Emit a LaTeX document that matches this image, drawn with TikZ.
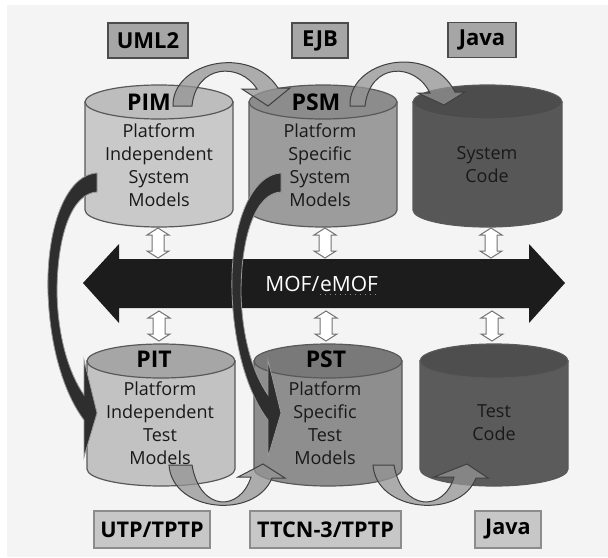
\documentclass[tikz,border=0pt]{standalone}
\usepackage{fontspec}
\setmainfont{Open Sans}
\definecolor{bgc}{HTML}{F4F4F4}
\definecolor{mofc}{HTML}{1C1C1C}
\definecolor{pimc}{HTML}{C9C9C9}
\definecolor{pimtop}{HTML}{BDBDBD}
\definecolor{psmc}{HTML}{9C9C9C}
\definecolor{psmtop}{HTML}{8C8C8C}
\definecolor{codec}{HTML}{575757}
\definecolor{codetop}{HTML}{4C4C4C}
\definecolor{pitc}{HTML}{C2C2C2}
\definecolor{pittop}{HTML}{A6A6A6}
\definecolor{pstc}{HTML}{8E8E8E}
\definecolor{psttop}{HTML}{797979}
\definecolor{tcodec}{HTML}{5B5B5B}
\definecolor{tcodetop}{HTML}{4E4E4E}
\tikzset{
  cyledge/.style={draw=black!65, line width=0.6pt},
  bodytext/.style={font=\fontsize{9}{11.5}\selectfont, align=center, text=black!90, inner sep=0pt},
  titletext/.style={font=\fontsize{11.5}{13}\selectfont\bfseries, inner sep=0pt},
  toplabel/.style={draw=black!70, fill=black!35, line width=0.6pt, font=\fontsize{11}{13}\selectfont\bfseries, inner sep=0pt, minimum height=17.5pt},
  botlabel/.style={draw=black!45, fill=black!22, line width=0.6pt, font=\fontsize{10.8}{13}\selectfont\bfseries, inner sep=0pt, minimum height=18.5pt},
  moftext/.style={font=\fontsize{10.5}{12}\selectfont, text=white, inner sep=0pt},
  blackarrow/.style={fill=black!82, draw=black!40, line width=0.4pt},
  grayarrow/.style={fill=black!42, fill opacity=0.75, draw=black!75, line width=0.5pt},
  dblarrow/.style={fill=white, draw=black!55, line width=0.5pt}
}
\newcommand\drawcyl[6]{%
  \begin{scope}[shift={(#1,#2)}]
    \filldraw[cyledge, fill=#5] (-#4,0) -- (-#4,#3) arc[start angle=180, end angle=0, x radius=#4, y radius=17] -- (#4,0) -- cycle;
    \filldraw[cyledge, fill=#6] (0,0) ellipse[x radius=#4, y radius=17];
  \end{scope}}
\newcommand\updown[2]{%
  \filldraw[dblarrow, shift={(#1,#2)}] (0,0) -- (11,7) -- (6,7) -- (6,23) -- (11,23) -- (0,30) -- (-11,23) -- (-6,23) -- (-6,7) -- (-11,7) -- cycle;}
\begin{document}
\begin{tikzpicture}[x=0.5pt,y=-0.5pt]
\useasboundingbox (0,0) rectangle (608,557);
\fill[white] (0,0) rectangle (608,557);
\fill[bgc] (7,5) rectangle (608,557);

% MOF / eMOF bus arrow
\fill[mofc] (83,283) -- (119,244) -- (119,259) -- (529,259) -- (529,244) -- (565,283) -- (529,323) -- (529,308) -- (119,308) -- (119,323) -- cycle;
\node[moftext, anchor=base west] (mofa) at (265,291) {MOF/};
\node[moftext, anchor=base west] (mofb) at (mofa.base east) {eMOF};
\draw[dotted, black!45, line width=0.5pt] ([yshift=-1.5pt]mofb.base west) -- ([yshift=-1.5pt]mofb.base east);

% small double arrows
\updown{158}{228}
\updown{325}{228}
\updown{491}{228}
\updown{159}{311}
\updown{326}{311}
\updown{492}{311}

% cylinders
\drawcyl{159}{102}{108}{74}{pimc}{pimtop}
\drawcyl{323}{102}{108}{74}{psmc}{psmtop}
\drawcyl{487.5}{102}{108}{74.5}{codec}{codetop}
\drawcyl{161}{361}{108}{74}{pitc}{pittop}
\drawcyl{328}{361}{108}{74}{pstc}{psttop}
\drawcyl{494}{361}{108}{74}{tcodec}{tcodetop}

% cylinder texts
\node[titletext] (pim) at (149,102) {PIM};
\node[bodytext] (pimtxt) at (159,165) {Platform\\Independent\\System\\Models};
\node[titletext] (psm) at (316,102) {PSM};
\node[bodytext] (psmtxt) at (320,165) {Platform\\Specific\\System\\Models};
\node[bodytext] (code) at (487,165) {System\\Code};
\node[titletext] (pit) at (154,359) {PIT};
\node[bodytext] (pittxt) at (160,423) {Platform\\Independent\\Test\\Models};
\node[titletext] (pst) at (326,359) {PST};
\node[bodytext] (psttxt) at (325,423) {Platform\\Specific\\Test\\Models};
\node[bodytext] (tcode) at (494,423) {Test\\Code};

% big black curved arrows (system model -> test model)
\filldraw[blackarrow] (97,173) .. controls (65,175) and (46,230) .. (48,293) .. controls (50,350) and (65,395) .. (84,420) -- (84,457) -- (97,413) -- (84,360) -- (84,395) .. controls (70,375) and (58,340) .. (57,293) .. controls (57,235) and (72,193) .. (97,192) -- cycle;
\begin{scope}[shift={(184,0)}]
\filldraw[blackarrow] (97,173) .. controls (65,175) and (46,230) .. (48,293) .. controls (50,350) and (65,395) .. (84,420) -- (84,457) -- (97,413) -- (84,360) -- (84,395) .. controls (70,375) and (58,340) .. (57,293) .. controls (57,235) and (72,193) .. (97,192) -- cycle;
\end{scope}

% gray transformation arrows, top
\filldraw[grayarrow] (173,106) .. controls (172,62) and (250,44) .. (278,88) -- (290,88) -- (268,106) -- (242,89) -- (257,89) .. controls (240,62) and (196,64) .. (192,106) -- cycle;
\filldraw[grayarrow] (350,106) .. controls (348,60) and (430,42) .. (455,92) -- (465,92) -- (444,105) -- (418,93) -- (430,93) .. controls (415,62) and (370,62) .. (365,106) -- cycle;
% gray transformation arrows, bottom
\filldraw[grayarrow] (169,465) .. controls (172,512) and (255,520) .. (272,478) -- (285,478) -- (263,464) -- (238,477) -- (251,477) .. controls (240,512) and (200,512) .. (192,465) -- cycle;
\filldraw[grayarrow] (373,465) .. controls (376,512) and (460,520) .. (476,478) -- (488,478) -- (467,464) -- (434,477) -- (454,477) .. controls (444,512) and (402,512) .. (394,465) -- cycle;

% language labels
\node[toplabel, minimum width=40pt] (uml) at (148,40.5) {UML2};
\node[toplabel, minimum width=28pt] (ejb) at (320,40.5) {EJB};
\node[toplabel, minimum width=34pt] (javatop) at (482,40) {Java};
\node[botlabel, minimum width=58pt] (utp) at (152,529.5) {UTP/TPTP};
\node[botlabel, minimum width=75.5pt] (ttcn) at (325.5,529.5) {TTCN-3/TPTP};
\node[botlabel, minimum width=33pt] (javabot) at (508,529.5) {Java};
\end{tikzpicture}
\end{document}
